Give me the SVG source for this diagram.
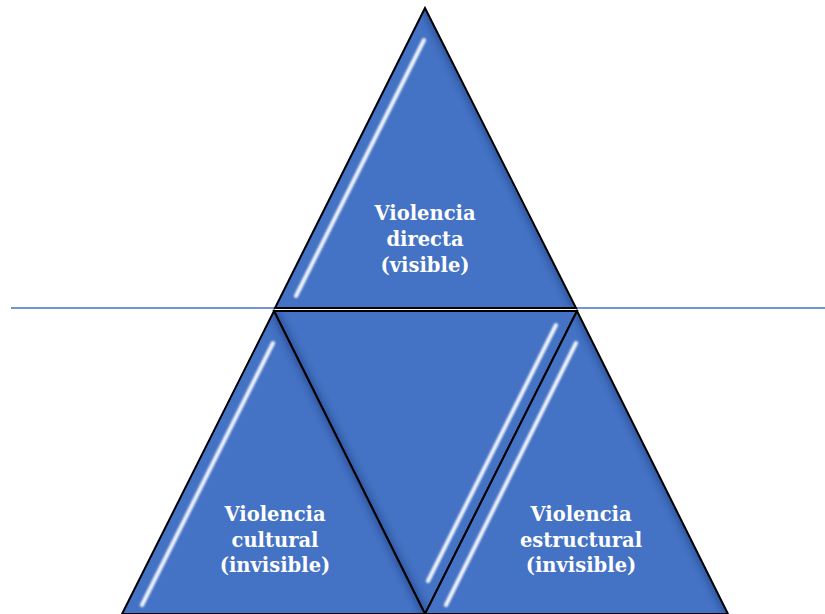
<svg xmlns="http://www.w3.org/2000/svg" width="825" height="614" viewBox="0 0 825 614">
<style>
.tri{fill:#4472C4;}
.edge{fill:none;stroke:#000;stroke-width:2;stroke-linejoin:miter;}
.hl{fill:none;stroke:#fff;stroke-width:4;stroke-linecap:round;filter:url(#blur);opacity:0.95;}
.dk{fill:none;stroke:#2a4f94;stroke-width:8;filter:url(#blur2);opacity:0.8;}
.lbl{font-family:"DejaVu Serif","Liberation Serif",serif;font-weight:bold;font-size:19.5px;fill:#fff;text-anchor:middle;}
</style>
<defs>
<filter id="blur" x="-20%" y="-20%" width="140%" height="140%"><feGaussianBlur stdDeviation="1"/></filter>
<filter id="blur2" x="-20%" y="-20%" width="140%" height="140%"><feGaussianBlur stdDeviation="3"/></filter>
<clipPath id="cTop"><polygon points="425,8 275,308 576,308"/></clipPath>
<clipPath id="cLeft"><polygon points="274,311 122,614 425,614"/></clipPath>
<clipPath id="cMid"><polygon points="274,311 577,311 425,614"/></clipPath>
<clipPath id="cRight"><polygon points="577,311 425,614 728,614"/></clipPath>
</defs>
<rect width="825" height="614" fill="#fff"/>
<g id="connectors">
<line x1="11" y1="308" x2="825" y2="308" stroke="#4472C4" stroke-width="1.5"/>
</g>
<g id="node-top">
<polygon class="tri" points="425,8 275,308 576,308"/>
<g clip-path="url(#cTop)">
<line class="dk" x1="425" y1="8" x2="576" y2="308"/>
<line class="hl" x1="424" y1="40" x2="296" y2="296"/>
</g>
<polygon class="edge" points="425,8 275,308 576,308"/>
<text class="lbl" x="425" y="220">Violencia</text>
<text class="lbl" x="425" y="246">directa</text>
<text class="lbl" x="425" y="272">(visible)</text>
</g>
<g id="node-mid">
<polygon class="tri" points="274,311 577,311 425,614"/>
<g clip-path="url(#cMid)">
<line class="dk" x1="274" y1="311" x2="425" y2="614"/>
<line class="hl" x1="556" y1="325" x2="428" y2="581"/>
</g>
<polygon class="edge" points="274,311 577,311 425,614"/>
</g>
<g id="node-left">
<polygon class="tri" points="274,311 122,614 425,614"/>
<g clip-path="url(#cLeft)">
<line class="dk" x1="274" y1="311" x2="425" y2="614"/>
<line class="hl" x1="273" y1="343" x2="142" y2="605"/>
</g>
<polygon class="edge" points="274,311 122,614 425,614"/>
<text class="lbl" x="275" y="521">Violencia</text>
<text class="lbl" x="275" y="547">cultural</text>
<text class="lbl" x="275" y="572">(invisible)</text>
</g>
<g id="node-right">
<polygon class="tri" points="577,311 425,614 728,614"/>
<g clip-path="url(#cRight)">
<line class="dk" x1="577" y1="311" x2="728" y2="614"/>
<line class="hl" x1="576" y1="343" x2="446" y2="605"/>
</g>
<polygon class="edge" points="577,311 425,614 728,614"/>
<text class="lbl" x="581" y="521">Violencia</text>
<text class="lbl" x="581" y="547">estructural</text>
<text class="lbl" x="581" y="572">(invisible)</text>
</g>
</svg>
